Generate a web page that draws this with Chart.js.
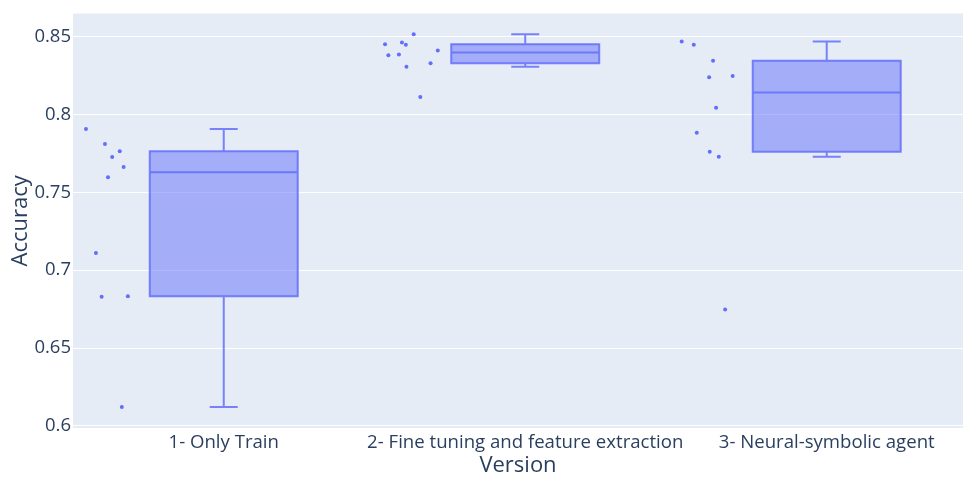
<!DOCTYPE html>
<html>
<head>
<meta charset="utf-8">
<script src="https://cdn.jsdelivr.net/npm/chart.js@4/dist/chart.umd.min.js"></script>
<style>
  html, body { margin: 0; padding: 0; background: #ffffff; }
  #wrap { width: 963px; height: 477px; }
</style>
</head>
<body>
<div id="wrap"><canvas id="chart" width="963" height="477"></canvas></div>
<script>
// Versions compared on the x axis
const categories = ['1- Only Train', '2- Fine tuning and feature extraction', '3- Neural-symbolic agent'];

// Accuracy of each run, per version
const accOnlyTrain     = [0.7908, 0.7811, 0.7728, 0.7765, 0.7663, 0.7597, 0.7110, 0.6829, 0.6833, 0.6121];
const accFineTuning    = [0.8517, 0.8453, 0.8463, 0.8449, 0.8382, 0.8386, 0.8412, 0.8331, 0.8307, 0.8114];
const accNeuroSymbolic = [0.8470, 0.8449, 0.8347, 0.8241, 0.8249, 0.8045, 0.7884, 0.7762, 0.7730, 0.6747];

// Horizontal jitter of each run's dot, in category widths from the box centre
const jitterOnlyTrain     = [-0.457, -0.394, -0.370, -0.345, -0.332, -0.384, -0.424, -0.405, -0.318, -0.338];
const jitterFineTuning    = [-0.370, -0.465, -0.409, -0.396, -0.454, -0.419, -0.290, -0.314, -0.394, -0.348];
const jitterNeuroSymbolic = [-0.481, -0.441, -0.377, -0.390, -0.312, -0.367, -0.431, -0.388, -0.358, -0.337];

// Box statistics per version
const lowerWhisker = [0.6121, 0.8307, 0.7730];
const quartile1    = [0.6833, 0.8331, 0.7762];
const medians      = [0.7630, 0.8399, 0.8143];
const quartile3    = [0.7765, 0.8453, 0.8347];
const upperWhisker = [0.7908, 0.8517, 0.8470];

// Value axis ticks
const yTicks = [0.6, 0.65, 0.7, 0.75, 0.8, 0.85];

const runs    = [accOnlyTrain, accFineTuning, accNeuroSymbolic];
const jitters = [jitterOnlyTrain, jitterFineTuning, jitterNeuroSymbolic];

const BLUE = '#636efa';
const LINE = 'rgba(99,110,250,0.85)';
const INK = '#2a3f5f';
const FONT = "'Open Sans', 'DejaVu Sans', sans-serif";
const BOX_HALF = 0.2454;   // half box width, category units
const CAP_HALF = 0.0464;   // half whisker-cap width

// Plot background behind the grid
const plotBackground = {
  id: 'plotBackground',
  beforeDraw(chart) {
    const { ctx, chartArea: a } = chart;
    ctx.save();
    ctx.fillStyle = '#ffffff';
    ctx.fillRect(0, 0, chart.width, chart.height);
    ctx.fillStyle = '#E5ECF6';
    ctx.fillRect(a.left, a.top, a.right - a.left, a.bottom - a.top);
    ctx.restore();
  }
};

// Box, median line and whiskers for each version
const boxes = {
  id: 'boxes',
  beforeDatasetsDraw(chart) {
    const { ctx, scales: { x, y } } = chart;
    ctx.save();
    categories.forEach((_, i) => {
      const xl = x.getPixelForValue(i - BOX_HALF);
      const xr = x.getPixelForValue(i + BOX_HALF);
      const xc = x.getPixelForValue(i);
      const cl = x.getPixelForValue(i - CAP_HALF);
      const cr = x.getPixelForValue(i + CAP_HALF);
      const yLo = y.getPixelForValue(lowerWhisker[i]);
      const yQ1 = y.getPixelForValue(quartile1[i]);
      const yMd = y.getPixelForValue(medians[i]);
      const yQ3 = y.getPixelForValue(quartile3[i]);
      const yHi = y.getPixelForValue(upperWhisker[i]);

      ctx.fillStyle = 'rgba(99,110,250,0.5)';
      ctx.fillRect(xl, yQ3, xr - xl, yQ1 - yQ3);

      ctx.strokeStyle = LINE;
      ctx.lineWidth = 2;
      ctx.beginPath();
      ctx.rect(xl, yQ3, xr - xl, yQ1 - yQ3);
      ctx.moveTo(xl, yMd); ctx.lineTo(xr, yMd);
      ctx.moveTo(xc, yQ3); ctx.lineTo(xc, yHi);
      ctx.moveTo(cl, yHi); ctx.lineTo(cr, yHi);
      ctx.moveTo(xc, yQ1); ctx.lineTo(xc, yLo);
      ctx.moveTo(cl, yLo); ctx.lineTo(cr, yLo);
      ctx.stroke();
    });
    ctx.restore();
  }
};

const datasets = runs.map((vals, i) => ({
  label: categories[i],
  data: vals.map((v, k) => ({ x: i + jitters[i][k], y: v })),
  backgroundColor: BLUE,
  borderColor: BLUE,
  borderWidth: 0,
  pointRadius: 2,
  pointHoverRadius: 2
}));

// Let the layout padding alone decide the plot edges
function noScalePadding(scale) {
  scale.paddingLeft = 0;
  scale.paddingRight = 0;
  scale.paddingTop = 0;
  scale.paddingBottom = 0;
}

new Chart(document.getElementById('chart'), {
  type: 'scatter',
  data: { datasets },
  plugins: [plotBackground, boxes],
  options: {
    responsive: false,
    animation: false,
    layout: { autoPadding: false, padding: { top: 13.5, right: 0, left: 0, bottom: 0 } },
    plugins: { legend: { display: false }, tooltip: { enabled: false } },
    scales: {
      x: {
        type: 'linear',
        min: -0.5,
        max: 2.452,
        grid: { display: false, drawTicks: false },
        border: { display: false },
        afterBuildTicks(scale) { scale.ticks = categories.map((_, i) => ({ value: i })); },
        afterFit(scale) { scale.height = 49; noScalePadding(scale); },
        ticks: {
          padding: 4,
          color: INK,
          font: { family: FONT, size: 18.6 },
          maxRotation: 0,
          autoSkip: false,
          callback: (v) => categories[v]
        },
        title: {
          display: true,
          text: 'Version',
          color: INK,
          font: { family: FONT, size: 22, lineHeight: 1 },
          padding: { top: 0, bottom: 0 }
        }
      },
      y: {
        min: 0.5986,
        max: 0.865,
        grid: { color: '#ffffff', lineWidth: 1, drawTicks: false },
        border: { display: false },
        afterBuildTicks(scale) { scale.ticks = yTicks.map(v => ({ value: v })); },
        afterFit(scale) { scale.width = 73; noScalePadding(scale); },
        ticks: {
          padding: 2,
          color: INK,
          font: { family: FONT, size: 18.5 },
          callback: (v) => String(+v.toFixed(2))
        },
        title: {
          display: true,
          text: 'Accuracy',
          color: INK,
          font: { family: FONT, size: 22 },
          padding: { top: 8, bottom: 0 }
        }
      }
    }
  }
});
</script>
</body>
</html>
